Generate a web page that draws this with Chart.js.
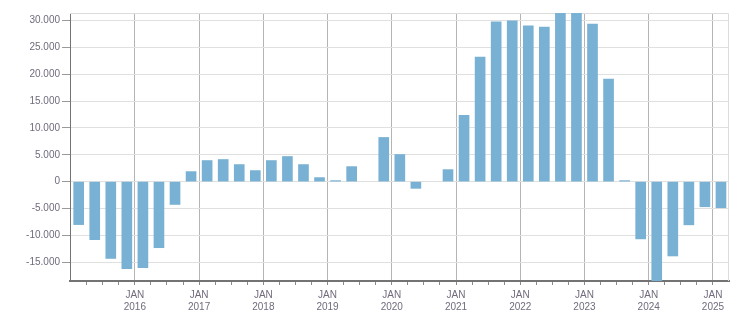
<!DOCTYPE html>
<html lang="de">
<head>
    <meta charset="UTF-8">
    <title>Quartalswerte 2015 - 2025</title>
    <script src="https://cdn.jsdelivr.net/npm/chart.js"></script>
    <style>
        html, body { margin: 0; padding: 0; background: #fff; }
        #wrap { width: 751px; height: 313px; }
    </style>
</head>
<body>
    <div id="wrap"><canvas id="chart"></canvas></div>

    <script>
        // Quartale (Kategorien)
        var quarters = [
            '2015 Q1', '2015 Q2', '2015 Q3', '2015 Q4',
            '2016 Q1', '2016 Q2', '2016 Q3', '2016 Q4',
            '2017 Q1', '2017 Q2', '2017 Q3', '2017 Q4',
            '2018 Q1', '2018 Q2', '2018 Q3', '2018 Q4',
            '2019 Q1', '2019 Q2', '2019 Q3', '2019 Q4',
            '2020 Q1', '2020 Q2', '2020 Q3', '2020 Q4',
            '2021 Q1', '2021 Q2', '2021 Q3', '2021 Q4',
            '2022 Q1', '2022 Q2', '2022 Q3', '2022 Q4',
            '2023 Q1', '2023 Q2', '2023 Q3', '2023 Q4',
            '2024 Q1', '2024 Q2', '2024 Q3', '2024 Q4',
            '2025 Q1'
        ];
        // Werte je Quartal (null = kein Balken sichtbar)
        var values = [
            -8000, -10800, -14300, -16200,
            -16000, -12300, -4250, 1870,
            3930, 4120, 3180, 2060,
            3930, 4680, 3180, 750,
            190, 2800, null, 8230,
            5050, -1250, null, 2240,
            12350, 23200, 29740, 29930,
            29000, 28800, 31800, 31700,
            29360, 19080, 190, -10660,
            -19800, -13840, -8040, -4680,
            -4860
        ];
        // Beschriftungen der x-Achse
        var yearLabels = ['2016', '2017', '2018', '2019', '2020', '2021', '2022', '2023', '2024', '2025'];
        var yTicks = [-15000, -10000, -5000, 0, 5000, 10000, 15000, 20000, 25000, 30000];

        function qToX(q) {
            var parts = q.split(' Q');
            return parseInt(parts[0], 10) + (parseInt(parts[1], 10) - 1) / 4 + 0.125;
        }

        function fmt(v) {
            var s = Math.abs(v).toString().replace(/\B(?=(\d{3})+(?!\d))/g, '.');
            return (v < 0 ? '-' : '') + s;
        }

        var points = quarters.map(function (q, i) {
            return { x: qToX(q), y: values[i] };
        });

        var quarterTicks = [];
        for (var t = 2015.25; t <= 2025.01; t += 0.25) {
            quarterTicks.push({ value: Math.round(t * 100) / 100 });
        }

        var frame = {
            id: 'frame',
            beforeDatasetsDraw: function (chart) {
                var a = chart.chartArea, c = chart.ctx;
                c.save();
                c.strokeStyle = '#dcdcdc';
                c.lineWidth = 1;
                c.beginPath();
                c.moveTo(a.left, a.top + 0.5);
                c.lineTo(a.right - 0.5, a.top + 0.5);
                c.lineTo(a.right - 0.5, a.bottom);
                c.stroke();
                c.restore();
            }
        };

        var textColor = '#716b7c';

        new Chart(document.getElementById('chart'), {
            type: 'bar',
            data: {
                datasets: [{
                    data: points,
                    backgroundColor: '#78b1d3',
                    borderWidth: 0,
                    barThickness: 10
                }]
            },
            options: {
                responsive: true,
                maintainAspectRatio: false,
                animation: false,
                layout: { padding: { top: 13, right: 22, left: 0, bottom: 0 } },
                plugins: { legend: { display: false }, tooltip: { enabled: false } },
                scales: {
                    x: {
                        type: 'linear',
                        offset: false,
                        min: 2014.99,
                        max: 2025.25,
                        afterBuildTicks: function (scale) { scale.ticks = quarterTicks.slice(); },
                        afterFit: function (scale) { scale.height = 32; },
                        border: { color: '#737373', width: 2 },
                        grid: {
                            offset: false,
                            color: function (ctx) {
                                return ctx.tick && Number.isInteger(ctx.tick.value) ? '#b4b4b4' : 'rgba(0,0,0,0)';
                            },
                            tickColor: '#8a8a8a',
                            tickLength: 4,
                            drawTicks: true
                        },
                        ticks: {
                            autoSkip: false,
                            maxRotation: 0,
                            padding: 4,
                            color: textColor,
                            font: { family: 'Liberation Sans', size: 10 },
                            callback: function (v) {
                                var idx = yearLabels.indexOf(String(v));
                                return Number.isInteger(v) && idx >= 0 ? ['JAN', yearLabels[idx]] : '';
                            }
                        }
                    },
                    y: {
                        min: -18500,
                        max: 31400,
                        afterBuildTicks: function (scale) {
                            scale.ticks = yTicks.map(function (v) { return { value: v }; });
                        },
                        afterFit: function (scale) { scale.width = 70; },
                        border: { color: '#737373', width: 1 },
                        grid: { color: '#e0e0e0', tickColor: '#9a9a9a', tickLength: 8 },
                        ticks: {
                            padding: 2,
                            color: textColor,
                            font: { family: 'Liberation Sans', size: 10 },
                            callback: function (v) { return fmt(v); }
                        }
                    }
                }
            },
            plugins: [frame]
        });
    </script>
</body>
</html>
